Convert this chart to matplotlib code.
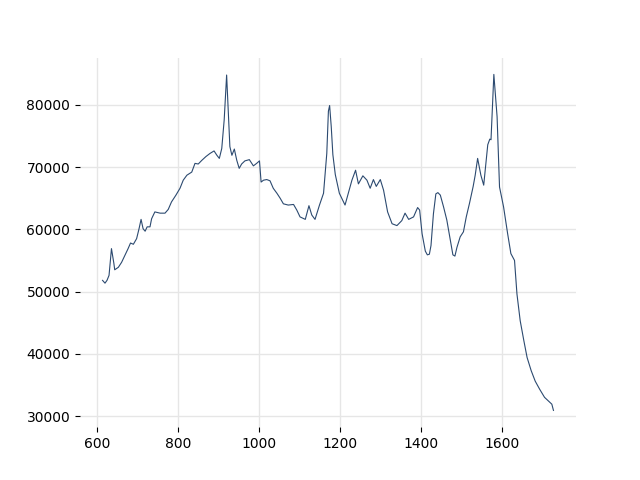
import matplotlib
matplotlib.use('Agg')
import matplotlib.pyplot as plt

# Spectrum (wavenumber, intensity)
wavenumber = [
    614, 620, 625, 630, 636, 642, 644, 653, 661, 669, 677, 683, 690, 698, 704, 709,
    714, 719, 724, 731, 735, 743, 756, 768, 776, 784, 795, 805, 813, 822, 834, 842,
    850, 859, 869, 879, 889, 896, 902, 908, 914, 920, 924, 928, 933, 939, 945, 951,
    957, 965, 976, 986, 994, 1001, 1005, 1011, 1019, 1027, 1035, 1044, 1052, 1060,
    1072, 1085, 1093, 1101, 1114, 1123, 1130, 1138, 1149, 1159, 1167, 1171, 1174,
    1178, 1182, 1188, 1198, 1212, 1220, 1229, 1238, 1245, 1256, 1266, 1274, 1282,
    1289, 1299, 1307, 1317, 1328, 1340, 1352, 1360, 1369, 1381, 1391, 1396, 1402,
    1410, 1415, 1420, 1424, 1430, 1436, 1441, 1447, 1455, 1463, 1472, 1478, 1483,
    1488, 1496, 1504, 1511, 1519, 1528, 1533, 1539, 1547, 1554, 1564, 1569, 1572,
    1579, 1587, 1593, 1603, 1613, 1621, 1630, 1636, 1644, 1653, 1661, 1671, 1681,
    1692, 1704, 1714, 1722, 1726,
]
intensity = [
    51800, 51350, 51800, 52600, 56900, 54500, 53500, 53900, 54700, 55800, 56900, 57800,
    57600, 58500, 60100, 61600, 60100, 59700, 60400, 60400, 61700, 62800, 62600, 62600,
    63200, 64400, 65500, 66600, 67900, 68700, 69200, 70600, 70500, 71100, 71700, 72200,
    72600, 71900, 71400, 73000, 77600, 84800, 79200, 73300, 71900, 72900, 71100, 69800,
    70500, 71000, 71200, 70200, 70600, 71000, 67600, 67900, 68000, 67800, 66600, 65800,
    65000, 64100, 63900, 64000, 63100, 62000, 61600, 63800, 62300, 61600, 63900, 65800,
    72200, 79000, 79900, 76500, 72000, 68800, 65800, 63900, 65800, 67900, 69500, 67300,
    68600, 67900, 66600, 68000, 66900, 68000, 66300, 62800, 60900, 60600, 61400, 62600,
    61600, 62000, 63500, 63100, 59300, 56500, 55900, 56000, 57400, 62500, 65700, 65900,
    65500, 63600, 61500, 58200, 55900, 55700, 57100, 58800, 59600, 62000, 64200, 66900,
    68700, 71400, 68700, 67100, 73600, 74500, 74400, 84900, 78100, 66800, 63600, 59300,
    56100, 55000, 49600, 45300, 42100, 39400, 37300, 35600, 34300, 33000, 32400, 31900,
    30900,
]

fig, ax = plt.subplots(figsize=(6.4, 4.8), dpi=100)
ax.plot(wavenumber, intensity, color='#2c4a70', linewidth=0.8)

ax.set_xticks([600, 800, 1000, 1200, 1400, 1600])
ax.set_yticks([30000, 40000, 50000, 60000, 70000, 80000])
ax.grid(True, color='#e6e6e6', linewidth=1)
ax.set_axisbelow(True)
for side in ['top', 'right', 'bottom', 'left']:
    ax.spines[side].set_visible(False)

plt.savefig('out.png')
